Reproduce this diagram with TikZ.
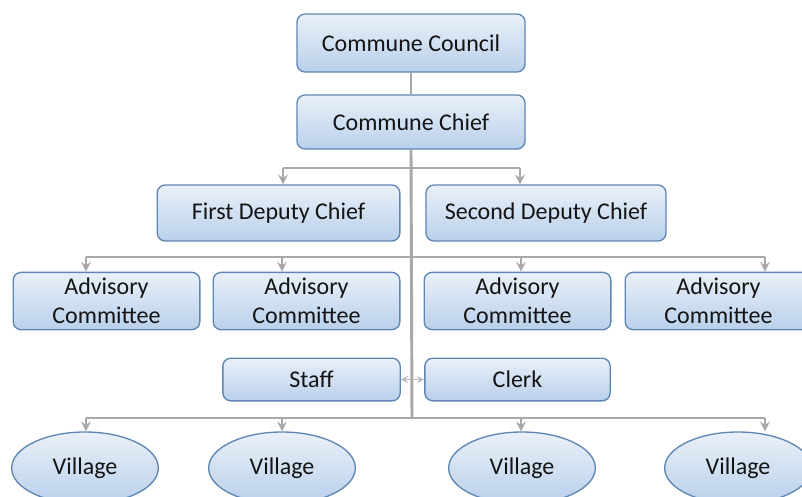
\documentclass[tikz,border=0pt]{standalone}
\usepackage{fontspec}
\setmainfont{Carlito}
\usepackage{xcolor}
\usepackage{tikz}
\usetikzlibrary{arrows,shapes.geometric}
\definecolor{boxtop}{HTML}{EAF0F8}
\definecolor{boxbot}{HTML}{B9D0EB}
\definecolor{boxline}{HTML}{5F86B3}
\definecolor{linegray}{HTML}{A8A8A8}
\definecolor{txt}{HTML}{141414}
\tikzstyle{unit} = [draw=boxline,line width=1pt,rounded corners=6pt,top color=boxtop,bottom color=boxbot,text=txt,inner sep=0pt,font=\fontsize{18}{21.5}\selectfont,align=center]
\tikzstyle{village} = [ellipse,draw=boxline,line width=1pt,top color=boxtop,bottom color=boxbot,text=txt,inner sep=0pt,minimum width=110pt,minimum height=54pt,font=\fontsize{18}{21.5}\selectfont]
\tikzstyle{link} = [linegray,line width=2.2pt]
\tikzstyle{arrow} = [link,-stealth]

\begin{document}
\begin{tikzpicture}[x=0.75pt,y=-0.75pt]
            % page
          \useasboundingbox (0,0) rectangle (802,496);
          \clip (0,0) rectangle (802,496);
          \fill[white] (0,0) rectangle (802,496);

            % bus coordinates
          \coordinate (top) at (412,168);
          \coordinate (mid) at (412,257);
          \coordinate (low) at (412,418);
          \coordinate (d1) at (283,168);
          \coordinate (d2) at (520,168);
          \coordinate (a1) at (86,257);
          \coordinate (a2) at (282,257);
          \coordinate (a3) at (521,257);
          \coordinate (a4) at (765,257);
          \coordinate (v1) at (86,418);
          \coordinate (v2) at (282,418);
          \coordinate (v3) at (521,418);
          \coordinate (v4) at (765,418);

            % units
          \node[unit,minimum width=171pt,minimum height=43.5pt] (council) at (411,43) {Commune Council};
          \node[unit,minimum width=171pt,minimum height=40.5pt] (chief) at (411,122) {Commune Chief};
          \node[unit,minimum width=182pt,minimum height=42pt] (deputy1) at (278.5,213) {First Deputy Chief};
          \node[unit,minimum width=180pt,minimum height=42pt] (deputy2) at (546,213) {Second Deputy Chief};
          \node[unit,minimum width=140pt,minimum height=43pt] (advisory1) at (106.5,301) {Advisory\\Committee};
          \node[unit,minimum width=140pt,minimum height=43pt] (advisory2) at (306.5,301) {Advisory\\Committee};
          \node[unit,minimum width=140pt,minimum height=43pt] (advisory3) at (517.5,301) {Advisory\\Committee};
          \node[unit,minimum width=140pt,minimum height=43pt] (advisory4) at (718.5,301) {Advisory\\Committee};
          \node[unit,minimum width=133pt,minimum height=32pt] (staff) at (311.5,379.5) {Staff};
          \node[unit,minimum width=139pt,minimum height=32pt] (clerk) at (517.5,379.5) {Clerk};
          \node[village] (village1) at (85,468) {Village};
          \node[village] (village2) at (282,468) {Village};
          \node[village] (village3) at (522,468) {Village};
          \node[village] (village4) at (738,468) {Village};

            % trunk and buses
          \draw[link] (council.south) -- (chief.north);
          \draw[link] (chief.south) -- (low);
          \draw[link] (d1) -- (d2);
          \draw[link] (a1) -- (a4);
          \draw[link] (v1) -- (v4);

            % arrows
          \draw[arrow] (d1) -- (d1 |- deputy1.north);
          \draw[arrow] (d2) -- (d2 |- deputy2.north);
          \draw[arrow] (a1) -- (a1 |- advisory1.north);
          \draw[arrow] (a2) -- (a2 |- advisory2.north);
          \draw[arrow] (a3) -- (a3 |- advisory3.north);
          \draw[arrow] (a4) -- (a4 |- advisory4.north);
          \draw[arrow] (v1) -- (v1 |- village1.north);
          \draw[arrow] (v2) -- (v2 |- village2.north);
          \draw[arrow] (v3) -- (v3 |- village3.north);
          \draw[arrow] (v4) -- (v4 |- village4.north);
          \draw[stealth-stealth,linegray!80,line width=1.4pt] (staff.east) -- (clerk.west);
\end{tikzpicture}
\end{document}
